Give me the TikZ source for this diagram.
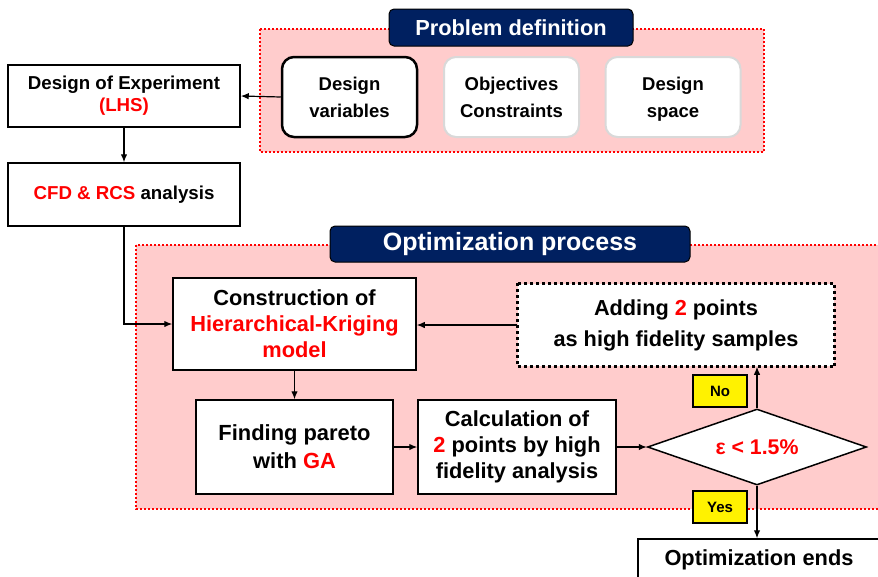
\documentclass[tikz,border=0pt]{standalone}
\usepackage{fontspec}
\setmainfont{Liberation Sans}
\usepackage{xcolor}
\usetikzlibrary{arrows.meta, positioning, shapes.geometric}
\definecolor{navy}{HTML}{002060}
\definecolor{pinkbg}{HTML}{FFCCCC}
\definecolor{softgray}{HTML}{D9D9D9}
\tikzset{
    box/.style={draw=black, line width=1.5pt, fill=white, align=center, inner sep=0pt,
        font=\bfseries\fontsize{21.8}{26}\selectfont},
    smallbox/.style={box, font=\bfseries\fontsize{18.7}{22}\selectfont},
    choice/.style={draw=#1, line width=2pt, fill=white, rounded corners=12pt, align=center,
        minimum width=135pt, minimum height=80pt, inner sep=0pt,
        font=\bfseries\fontsize{18.5}{27}\selectfont},
    title/.style={draw=black, line width=1pt, fill=navy, text=white, rounded corners=5pt,
        inner sep=0pt, font=\bfseries\fontsize{21.8}{25}\selectfont},
    region/.style={draw=red, fill=pinkbg, line width=2pt, dash pattern=on 2pt off 2pt},
    tag/.style={draw=black, line width=1.2pt, fill=yellow, minimum width=54pt, minimum height=32pt,
        inner sep=0pt, font=\bfseries\fontsize{15}{18}\selectfont}
}
\begin{document}
\begin{tikzpicture}[x=1pt, y=-1pt, >={Latex[length=8pt,width=6.5pt]}, line width=1.2pt]
    \useasboundingbox (0,0) rectangle (878,576);

    % Background regions
    \draw[region] (260,29) rectangle (764,152);
    \draw[region] (136,245) rectangle (884,509);

    % Problem definition
    \node[title, minimum width=244pt, minimum height=37pt] (probtitle) at (511,27.5) {Problem definition};
    \node[choice=black, line width=2.5pt] (vars) at (349.5,97) {Design\\variables};
    \node[choice=softgray] (obj) at (511.5,97) {Objectives\\Constraints};
    \node[choice=softgray] (space) at (673,97) {Design\\\raisebox{0pt}[\height][0pt]{space}};

    % Sampling
    \node[smallbox, minimum width=232pt, minimum height=62pt] (doe) at (124,96)
        {Design of Experiment\\\textcolor{red}{(LHS)}};
    \node[smallbox, minimum width=232pt, minimum height=63pt] (cfd) at (124,194.5)
        {\textcolor{red}{CFD \& RCS} analysis};

    % Optimization process
    \node[title, minimum width=360pt, minimum height=36pt, font=\bfseries\fontsize{25}{28}\selectfont]
        (opttitle) at (510,244) {Optimization process};
    \node[box, minimum width=243pt, minimum height=92pt] (krig) at (294.5,324)
        {Construction of\\\textcolor{red}{Hierarchical-Kriging}\\\textcolor{red}{model}};
    \node[box, draw=none, minimum width=316pt, minimum height=82pt, font=\bfseries\fontsize{21.7}{31}\selectfont]
        (add) at (676,325) {Adding \textcolor{red}{2} points\\as high fidelity samples};
    \draw[line width=3pt, dash pattern=on 3pt off 3pt] (add.north west) rectangle (add.south east);
    \node[box, minimum width=197pt, minimum height=94pt, font=\bfseries\fontsize{21.9}{28}\selectfont]
        (pareto) at (294.5,447) {Finding pareto\\with \textcolor{red}{GA}};
    \node[box, minimum width=198pt, minimum height=94pt] (calc) at (517,447)
        {Calculation of\\\textcolor{red}{2} points by high\\fidelity analysis};
    \node[diamond, draw=black, line width=1.5pt, fill=white, aspect=2.88, inner sep=0pt,
        minimum width=219pt, minimum height=76pt, text=red,
        font=\bfseries\fontsize{21.3}{24}\selectfont] (check) at (757,447) {ε < 1.5\%};
    \node[box, minimum width=242pt, minimum height=42pt] (ends) at (759,560) {Optimization ends};

    % Yes / No labels
    \node[tag] (no) at (720,391) {No};
    \node[tag] (yes) at (720,507) {Yes};

    % Connectors
    \draw[->] (vars.west) -- (doe.east);
    \draw[->] (doe.south) -- (cfd.north);
    \draw[->] (cfd.south) |- (krig.west);
    \draw[->] (add.west) -- (add.west -| krig.east);
    \draw[->] (krig.south) -- (krig.south |- pareto.north);
    \draw[->] (pareto.east) -- (calc.west);
    \draw[->] (calc.east) -- (check.west);
    \draw[->] (check.north) -- (check.north |- add.south);
    \draw[->] (check.south) -- (check.south |- ends.north);
\end{tikzpicture}
\end{document}
